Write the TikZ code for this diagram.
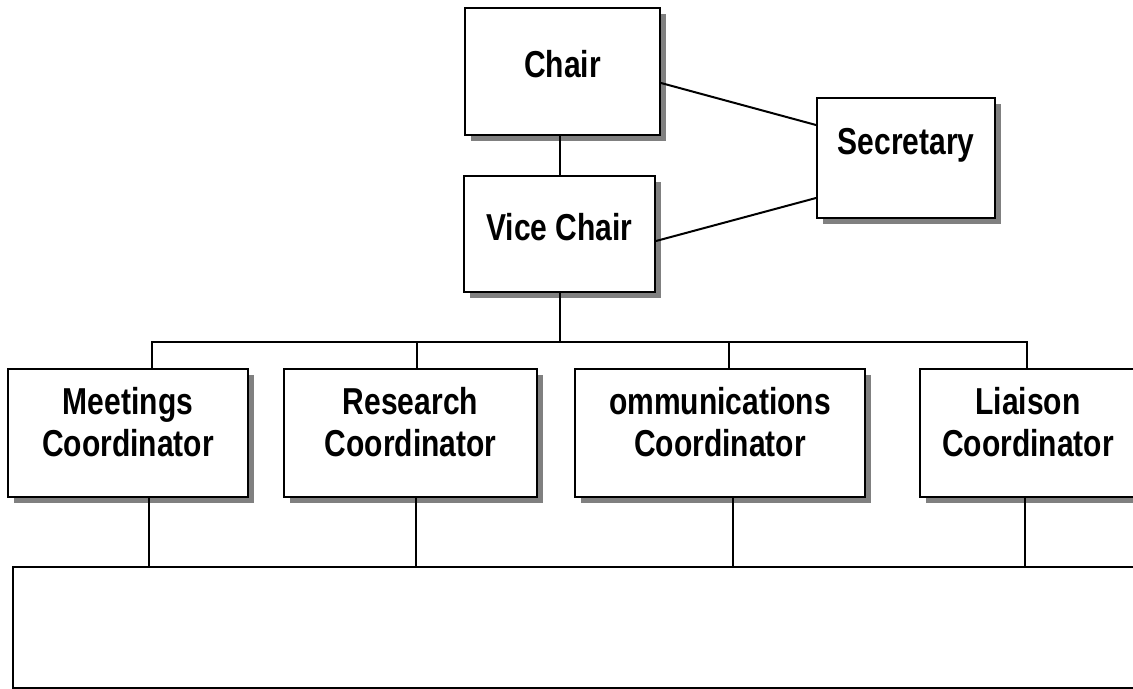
\documentclass[tikz,border=0pt]{standalone}
\usepackage{fontspec}
\setmainfont{Liberation Sans}[FakeStretch=0.8]
\usetikzlibrary{positioning,shadows}

\tikzset{
  box/.style={draw,line width=1pt,fill=white,inner sep=0pt,align=center,
    font=\bfseries\fontsize{18.75}{21}\selectfont,
    drop shadow={shadow xshift=3pt,shadow yshift=-3pt,fill=black!50,opacity=1}},
  plain/.style={draw,line width=1pt,fill=white,inner sep=0pt},
  line/.style={line width=1pt}
}

\begin{document}
\begin{tikzpicture}[x=0.5pt,y=-0.5pt]
    \useasboundingbox (0,0) rectangle (1133,689);
    \node[box,minimum width=97.5pt,minimum height=63.5pt,text depth=7.5pt] (1) at (562.5,71.5) {Chair};
    \node[box,below=19.5pt of 1,xshift=-1.5pt,minimum width=95.5pt,minimum height=58pt,text depth=7.5pt] (2) {Vice Chair};
    \node[box,right=77.5pt of 1,yshift=-43.25pt,minimum width=89pt,minimum height=60pt,text depth=16.5pt] (3) {Secretary};
    \node[box,minimum width=120pt,minimum height=64pt,text depth=11pt] (4) at (128,432.5) {Meetings\\Coordinator};
    \node[box,right=17pt of 4,minimum width=126.5pt,minimum height=64pt,text depth=11pt] (5) {Research\\Coordinator};
    \node[box,right=18pt of 5,minimum width=145pt,minimum height=64pt,text depth=11pt] (6) {ommunications\\Coordinator};
    \node[box,right=26.5pt of 6,minimum width=108pt,minimum height=64pt,text depth=11pt] (7) {Liaison\\Coordinator};
    \node[plain,anchor=north west,minimum width=570pt,minimum height=60.5pt] (8) at (12,566) {};
    \coordinate[below=24.5pt of 2] (bus);

    %% chair and vice chair
    \draw[line] (2.north) -- (2.north |- 1.south);
    %% secretary
    \draw[line] ([yshift=-5.75pt]1.east) -- ([yshift=16.5pt]3.west);
    \draw[line] ([yshift=-3.5pt]2.east) -- ([yshift=-20pt]3.west);
    %% coordinators
    \draw[line] (2) -- (bus);
    \draw[line] ([xshift=12pt]4.north) |- ([xshift=-0.5pt]7.north |- bus) -- ([xshift=-0.5pt]7.north);
    \draw[line] ([xshift=3.25pt]5.north) -- ([xshift=3.25pt]5.north |- bus);
    \draw[line] ([xshift=4.5pt]6.north) -- ([xshift=4.5pt]6.north |- bus);
    %% bottom
    \draw[line] ([xshift=10.5pt]4.south) -- ([xshift=10.5pt]4.south |- 8.north);
    \draw[line] ([xshift=2.75pt]5.south) -- ([xshift=2.75pt]5.south |- 8.north);
    \draw[line] ([xshift=6.5pt]6.south) -- ([xshift=6.5pt]6.south |- 8.north);
    \draw[line] ([xshift=-1.5pt]7.south) -- ([xshift=-1.5pt]7.south |- 8.north);
\end{tikzpicture}
\end{document}
